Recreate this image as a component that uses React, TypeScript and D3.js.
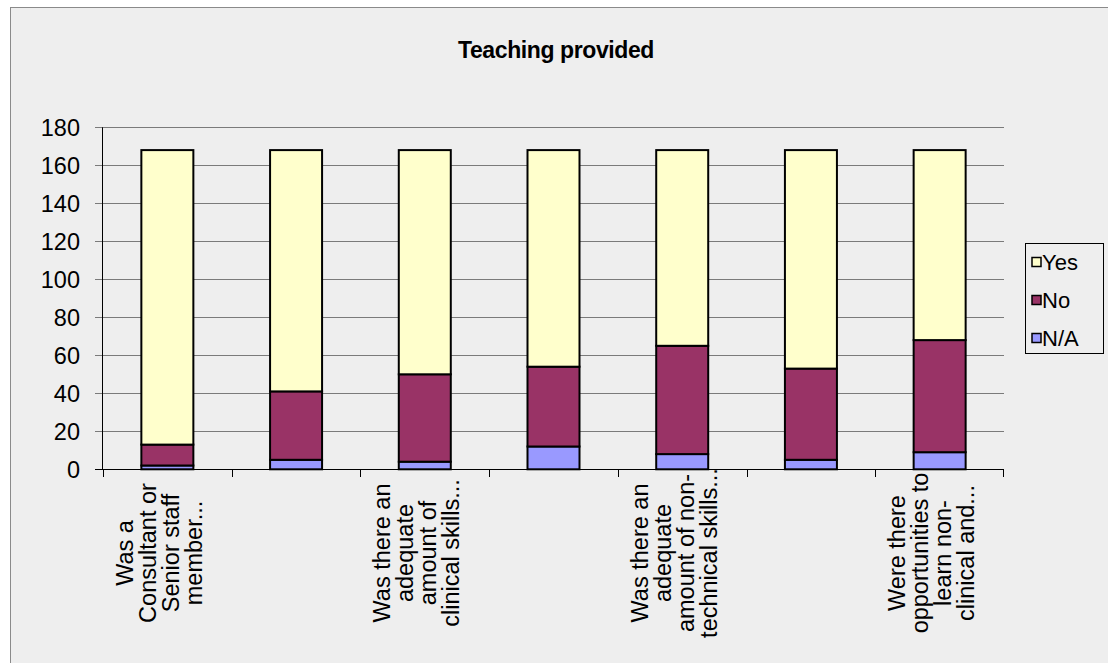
import React from "react";
import * as d3 from "d3";

const categories: string[][] = [
  ["Was a", "Consultant or", "Senior staff", "member..."],
  [],
  ["Was there an", "adequate", "amount of", "clinical skills..."],
  [],
  ["Was there an", "adequate", "amount of non-", "technical skills..."],
  [],
  ["Were there", "opportunities to", "learn non-", "clinical and..."],
];
const categoryIds = ["q1", "q2", "q3", "q4", "q5", "q6", "q7"];
const naValues = [2, 5, 4, 12, 8, 5, 9];
const noValues = [11, 36, 46, 42, 57, 48, 59];
const yesValues = [155, 127, 118, 114, 103, 115, 100];
const seriesNames = ["N/A", "No", "Yes"];
const seriesColors = ["#9999FF", "#993366", "#FFFFCC"];
const yTicks = [0, 20, 40, 60, 80, 100, 120, 140, 160, 180];
const title = "Teaching provided";

const W = 1108;
const H = 663;
const FONT = "'Liberation Sans', Arial, sans-serif";

export default function App() {
  const x0 = 103, x1 = 1004;
  const yBottom = 469.3, yTop = 127.3;
  const x = d3.scaleBand<string>().domain(categoryIds).range([x0, x1]).paddingInner(0).paddingOuter(0);
  const y = d3.scaleLinear().domain([0, 180]).range([yBottom, yTop]);
  const barW = x.bandwidth() * 0.404;

  const rows = categoryIds.map((id, i) => ({ id, "N/A": naValues[i], No: noValues[i], Yes: yesValues[i] }));
  const stack = d3.stack<any>().keys(seriesNames);
  const stacked = stack(rows);

  const legendItems = [
    { name: "Yes", color: seriesColors[2] },
    { name: "No", color: seriesColors[1] },
    { name: "N/A", color: seriesColors[0] },
  ];

  const lineH = 23;
  const labelFs = 23.5;

  return (
    <svg width={W} height={H} style={{ position: "absolute", left: 0, top: 0, display: "block" }} fontFamily={FONT}>
      <rect x={0} y={0} width={W} height={H} fill="#ffffff" />
      <rect x={10.5} y={7.5} width={W} height={H} fill="#eeeeee" stroke="#8a8a8a" strokeWidth={1} />
      <text x={556} y={58} textAnchor="middle" fontSize={23} fontWeight="bold" fill="#000" letterSpacing={-0.4}>
        {title}
      </text>

      {/* gridlines */}
      {yTicks.map((t) => (
        <line key={"g" + t} x1={95} x2={x1} y1={Math.round(y(t)) + 0.5} y2={Math.round(y(t)) + 0.5} stroke="#7a7a7a" strokeWidth={1} />
      ))}
      {/* y tick labels */}
      {yTicks.map((t) => (
        <text key={"yl" + t} x={80} y={y(t) + 8.5} textAnchor="end" fontSize={23.5} fill="#000">
          {t}
        </text>
      ))}

      {/* bars */}
      {stacked.map((s, si) => (
        <g key={s.key}>
          {s.map((d, i) => (
            <rect
              key={i}
              x={(x(categoryIds[i]) as number) + (x.bandwidth() - barW) / 2}
              y={y(d[1])}
              width={barW}
              height={y(d[0]) - y(d[1])}
              fill={seriesColors[si]}
              stroke="#000"
              strokeWidth={2}
            />
          ))}
        </g>
      ))}

      {/* axes */}
      <line x1={102.5} x2={102.5} y1={yTop} y2={yBottom + 0.5} stroke="#000" strokeWidth={1} />
      <line x1={95} x2={x1} y1={469.5} y2={469.5} stroke="#000" strokeWidth={1} />
      {categoryIds.map((id) => (
        <line key={"t" + id} x1={Math.round(x(id) as number) + 0.5} x2={Math.round(x(id) as number) + 0.5} y1={469} y2={477} stroke="#000" strokeWidth={1} />
      ))}
      <line x1={x1 - 0.5} x2={x1 - 0.5} y1={469} y2={477} stroke="#000" strokeWidth={1} />

      {/* category labels */}
      {categories.map((lines, i) => {
        if (!lines.length) return null;
        const cx = (x(categoryIds[i]) as number) + x.bandwidth() / 2;
        const cy = 553;
        const n = lines.length;
        return (
          <g key={"cl" + i} transform={`translate(${cx},${cy}) rotate(-90)`}>
            {lines.map((ln, j) => (
              <text key={j} x={0} y={(j - (n - 1) / 2) * lineH} textAnchor="middle" fontSize={labelFs} fill="#000">
                {ln}
              </text>
            ))}
          </g>
        );
      })}

      {/* legend */}
      <rect x={1025.5} y={243.5} width={78} height={110} fill="#eeeeee" stroke="#000" strokeWidth={1} />
      {legendItems.map((it, i) => (
        <g key={it.name} transform={`translate(0,${262 + i * 38})`}>
          <rect x={1032} y={-4.5} width={9} height={9} fill={it.color} stroke="#000" strokeWidth={1.5} />
          <text x={1042} y={8} fontSize={22} fill="#000">
            {it.name}
          </text>
        </g>
      ))}
    </svg>
  );
}
